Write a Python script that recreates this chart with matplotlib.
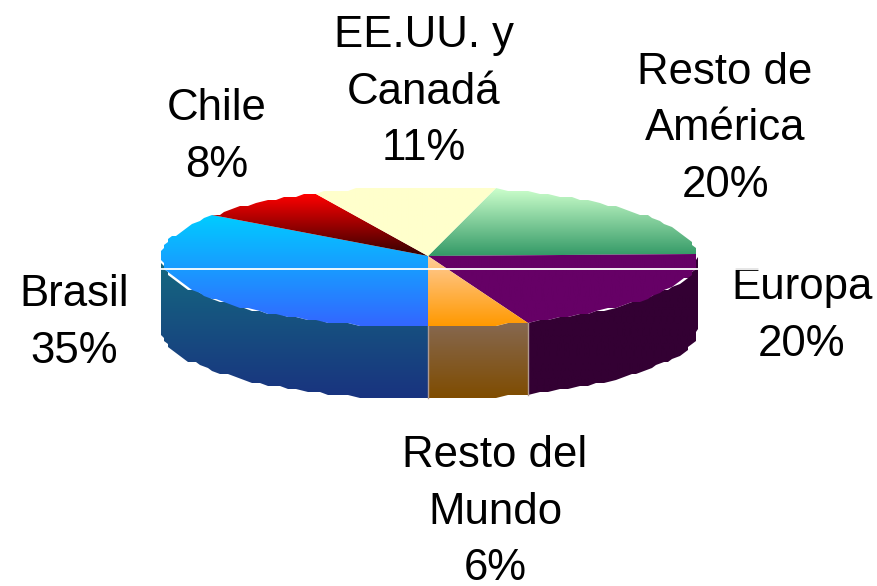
#!/usr/bin/env python3

import numpy as np
import matplotlib
matplotlib.use('Agg')
import matplotlib.pyplot as plt
from matplotlib.patches import Polygon
from matplotlib.colors import to_rgb

plt.rcParams['font.family'] = ['Liberation Sans', 'DejaVu Sans']

# slices, clockwise, starting from the one right of the top
labels = ['Resto de\nAmérica', 'Europa', 'Resto del\nMundo', 'Brasil', 'Chile', 'EE.UU. y\nCanadá']
shares = [20, 20, 6, 35, 8, 11]

top_from = ['#CCFFCC', '#660066', '#FFCC99', '#00CCFF', '#FF0000', '#FFFFCC']
top_to = ['#339966', '#660066', '#FF9900', '#3366FF', '#330000', '#FFFFCC']
side_from = ['#1A4C33', '#330033', '#866850', '#146A80', '#800000', '#808066']
side_to = ['#1A4C33', '#330033', '#7F4C00', '#19337F', '#1A0000', '#808066']

label_x = [725, 802, 495, 74, 217, 424]
label_y = [129, 316, 512, 323, 137, 92]

cx, cy = 428, 257
rx_l, rx_r = 267, 270
ry = 70
depth = 72
start = 180 - 360 * sum(shares[:3]) / 100


def rim(a):
    # the reference rim is wobbly, so snap it to a coarse grid
    a = np.radians(a)
    s = np.sin(a)
    x = cx + np.where(s < 0, rx_l, rx_r) * s
    y = cy - ry * np.cos(a)
    x = np.clip(cx + np.round((x - cx) / 4) * 4, cx - rx_l, cx + rx_r)
    y = cy + np.round((y - cy) / 3) * 3
    return x, y


def arc(a1, a2):
    return np.linspace(a1, a2, int((a2 - a1) / 2.5) + 2)


def fill_grad(ax, pts, c1, c2, z):
    pts = np.array(pts)
    patch = Polygon(pts, closed=True, fc='none', ec='none', transform=ax.transData)
    ax.add_patch(patch)
    t = np.linspace(0, 1, 256)[:, None, None]
    img = (1 - t) * np.array(to_rgb(c1))[None, None, :] + t * np.array(to_rgb(c2))[None, None, :]
    ext = (pts[:, 0].min(), pts[:, 0].max(), pts[:, 1].max(), pts[:, 1].min())
    im = ax.imshow(img, extent=ext, aspect='auto', zorder=z, interpolation='bilinear')
    im.set_clip_path(patch)


fig = plt.figure(figsize=(8.77, 5.86), dpi=100)
ax = fig.add_axes([0, 0, 1, 1])

edges = start + np.cumsum([0] + shares) * 3.6

# walls first, only the part of the rim facing the viewer
for i in range(len(shares)):
    a1, a2 = max(edges[i], 90), min(edges[i + 1], 270)
    if a2 <= a1:
        continue
    x, y = rim(arc(a1, a2))
    pts = list(zip(x, y)) + list(zip(x[::-1], y[::-1] + depth))
    fill_grad(ax, pts, side_from[i], side_to[i], 2)
    if labels[i].endswith('Mundo'):
        # pale edges on this wall
        ax.plot([x[0], x[0]], [y[0], y[0] + depth], color='#B09A90', lw=1, zorder=2.5)
        ax.plot([x[-1], x[-1]], [y[-1], y[-1] + depth], color='#B09A90', lw=1, zorder=2.5)

# top of the pie
for i in range(len(shares)):
    x, y = rim(arc(edges[i], edges[i + 1]))
    pts = [(cx, cy - 1)] + list(zip(x, y))
    fill_grad(ax, pts, top_from[i], top_to[i], 3)

for i in range(len(shares)):
    ax.text(label_x[i], label_y[i], '%s\n%d%%' % (labels[i], shares[i]), ha='center', va='center',
            fontsize=31.5, color='black', linespacing=1.49, zorder=4)

# white line runs across the pie and the top of the E in Europa
ax.plot([161, 760], [268.5, 268.5], color='white', lw=1.3, zorder=5)

ax.set_xlim(0, 877)
ax.set_ylim(586, 0)
ax.axis('off')
fig.savefig('out.png', dpi=100)
